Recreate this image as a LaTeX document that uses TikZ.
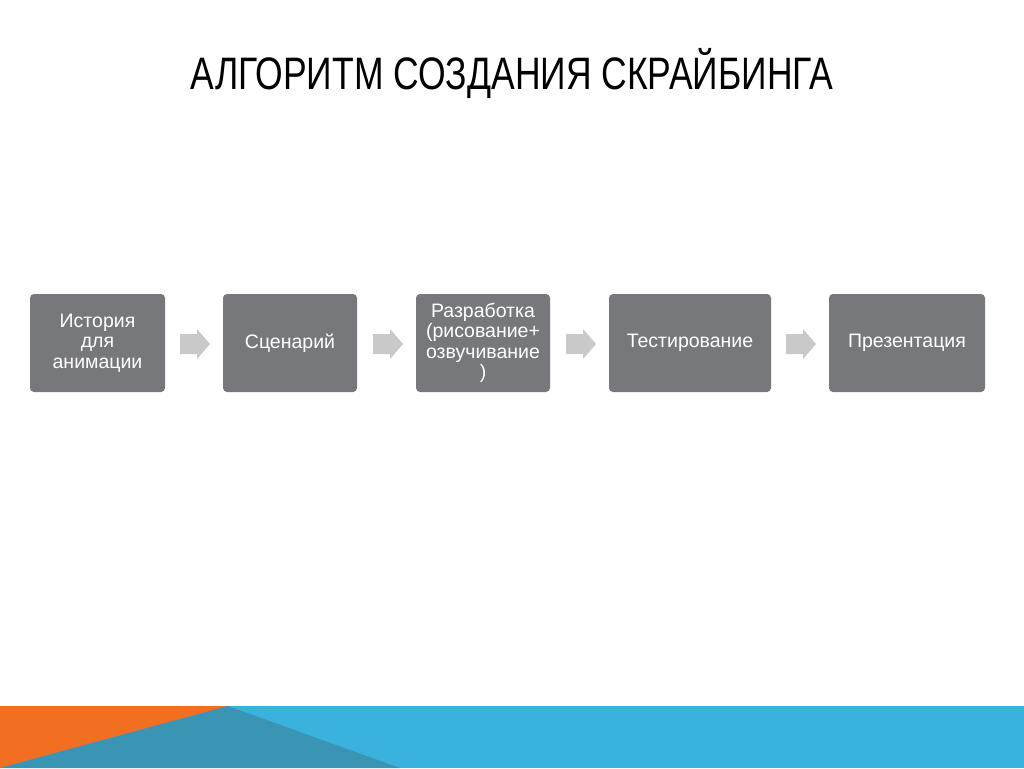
\documentclass[tikz,border=0pt]{standalone}
\usepackage{fontspec}
\setmainfont{Liberation Sans}
\newfontfamily\titlefont[FakeStretch=0.78]{Liberation Sans}
\definecolor{boxgray}{HTML}{77787B}
\definecolor{arrgray}{HTML}{C9C9C9}
\definecolor{orng}{HTML}{F26E21}
\definecolor{lblue}{HTML}{3AB2DE}
\definecolor{dblue}{HTML}{3A94B4}
\tikzset{x=1pt,y=-1pt,
 stepbox/.style={fill=boxgray,rounded corners=4pt,text=white,align=center,font=\fontsize{19.5}{20.5}\selectfont,inner sep=0pt},
 garrow/.style={fill=arrgray,draw=none}}
\newcommand{\garr}[1]{\fill[garrow] (#1,334)--(#1+17,334)--(#1+17,329)--(#1+30,344)--(#1+17,359)--(#1+17,354)--(#1,354)--cycle;}
\begin{document}
\begin{tikzpicture}
\useasboundingbox (0,0) rectangle (1024,768);
\fill[white] (0,0) rectangle (1024,768);
\fill[lblue] (0,706) rectangle (1024,768);
\fill[orng] (0,706)--(228,706)--(0,768)--cycle;
\fill[dblue] (228,706)--(0,768)--(400,768)--cycle;
\node (title) at (512,73) {\titlefont\fontsize{45.5}{50}\selectfont АЛГОРИТМ СОЗДАНИЯ СКРАЙБИНГА};
\node[stepbox,minimum width=135pt,minimum height=98pt] (b1) at (97.5,343) {История\\для\\анимации};
\node[stepbox,minimum width=134pt,minimum height=98pt] (b2) at (290,343) {Сценарий};
\node[stepbox,minimum width=134pt,minimum height=98pt] (b3) at (483,343) {Разработка\\(рисование+\\озвучивание\\)};
\node[stepbox,minimum width=162pt,minimum height=98pt] (b4) at (690,343) {Тестирование};
\node[stepbox,minimum width=156pt,minimum height=98pt] (b5) at (907,343) {Презентация};
\garr{180}\garr{373}\garr{566}\garr{786}
\end{tikzpicture}
\end{document}
